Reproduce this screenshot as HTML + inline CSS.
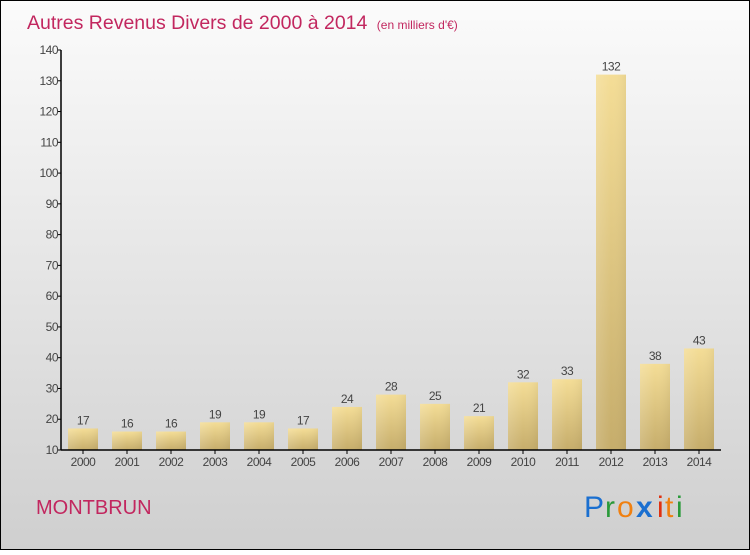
<!DOCTYPE html>
<html><head><meta charset="utf-8"><style>
body{margin:0}
#c{width:750px;height:550px;position:relative;font-family:"Liberation Sans",sans-serif}
</style></head><body>
<div id="c">
<svg id="s" width="750" height="550" xmlns="http://www.w3.org/2000/svg">
<defs>
<linearGradient id="bg" x1="0" y1="0" x2="0" y2="1"><stop offset="0" stop-color="#fbfbfb"/><stop offset="1" stop-color="#cfcfcf"/></linearGradient>
<linearGradient id="bar" x1="0" y1="0" x2="0" y2="1"><stop offset="0" stop-color="#f4dd96"/><stop offset="1" stop-color="#c6ad6b"/></linearGradient>
<linearGradient id="barh" x1="0" y1="0" x2="1" y2="0"><stop offset="0" stop-color="#fff" stop-opacity="0.15"/><stop offset="0.5" stop-color="#fff" stop-opacity="0"/><stop offset="1" stop-color="#000" stop-opacity="0.05"/></linearGradient>
</defs>
<rect x="0.5" y="0.5" width="749" height="549" fill="url(#bg)" stroke="#000"/>
<text x="27" y="29" font-size="19.5" fill="#c2275f">Autres Revenus Divers de 2000 à 2014 <tspan font-size="12" dx="4">(en milliers d'€)</tspan></text>
<g id="plot"></g>
<text x="36" y="514" font-size="20" fill="#c2275f">MONTBRUN</text>
<g font-size="30" font-family="Liberation Sans, sans-serif">
<text x="584" y="517" fill="#1a6fd0">P</text><text x="605" y="517" fill="#2a9a3a">r</text><text x="617" y="517" fill="#f08010">o</text><text x="636" y="517" fill="#1a6fd0" font-weight="bold">x</text><text x="657" y="517" fill="#e03010">i</text><text x="665" y="517" fill="#f08010">t</text><text x="676" y="517" fill="#2a9a3a">i</text>
</g>
</svg>
</div>
<script>
const categories=["2000","2001","2002","2003","2004","2005","2006","2007","2008","2009","2010","2011","2012","2013","2014"];
const values=[17,16,16,19,19,17,24,28,25,21,32,33,132,38,43];
const yTicks=[10,20,30,40,50,60,70,80,90,100,110,120,130,140];
const NS="http://www.w3.org/2000/svg";
const g=document.getElementById('plot');
const x0=61,x1=721,yMin=10,yMax=140,yb=450,yt=50;
const band=(x1-x0)/categories.length;
const y=v=>yb-(v-yMin)/(yMax-yMin)*(yb-yt);
const xc=i=>x0+band*(i+0.5);
function el(t,a,p){const e=document.createElementNS(NS,t);for(const k in a)e.setAttribute(k,a[k]);(p||g).appendChild(e);return e;}
yTicks.forEach(t=>{
 const l=el('line',{x1:x0-4,x2:x0,y1:y(t),y2:y(t),stroke:'#000'});
 
 
 const tx=el('text',{x:x0-3,y:y(t)+4,'font-size':12,fill:'#444','text-anchor':'end','letter-spacing':'-0.5'});
 tx.textContent=t;
 
 
});
values.forEach((v,i)=>{
 const b=el('rect',{x:xc(i)-15,y:y(v),width:30,height:yb-y(v),fill:'url(#bar)'});
 
 
 el('rect',{x:xc(i)-15,y:y(v),width:30,height:yb-y(v),fill:'url(#barh)'});
 const vl=el('text',{x:xc(i),y:y(v)-4,'font-size':12,fill:'#444','text-anchor':'middle','letter-spacing':'-0.5'});
 vl.textContent=v;
 
 
 const tk=el('line',{x1:xc(i),x2:xc(i),y1:yb,y2:yb+4,stroke:'#000'});
 
 
 const xl=el('text',{x:xc(i),y:yb+16,'font-size':12,fill:'#444','text-anchor':'middle','letter-spacing':'-0.5'});
 xl.textContent=categories[i];
 
 
});
const ya=el('line',{x1:x0,x2:x0,y1:yt,y2:yb,stroke:'#000','stroke-width':1.5});


const xa=el('line',{x1:x0,x2:x1,y1:yb,y2:yb,stroke:'#000','stroke-width':1.5});


</script>
</body></html>
